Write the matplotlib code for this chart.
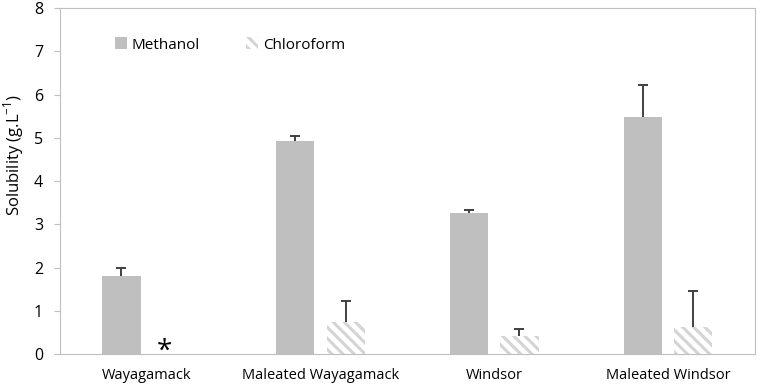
import numpy as np
import matplotlib.pyplot as plt

plt.rcParams['font.family'] = ['Open Sans', 'DejaVu Sans']

categories = ["Wayagamack", "Maleated Wayagamack", "Windsor", "Maleated Windsor"]
methanol = [1.8, 4.93, 3.26, 5.49]
methanol_err = [0.2, 0.12, 0.08, 0.73]
chloroform = [0.0, 0.74, 0.42, 0.63]
chloroform_err = [0.0, 0.48, 0.16, 0.83]

plt.rcParams['hatch.color'] = '#d4d4d4'
plt.rcParams['hatch.linewidth'] = 2.2

fig = plt.figure(figsize=(7.65, 3.9), dpi=100)
ax = fig.add_axes([0.078, 0.0923, 0.909, 0.887])

x = np.arange(len(categories))
w = 0.22
off = 0.145
ecol = '#404040'

ax.bar(x - off, methanol, w, color='#bfbfbf', label='Methanol')
# first chloroform value is missing (marked with asterisk)
ax.bar(x[1:] + off, chloroform[1:], w, color='white', hatch='\\\\\\', edgecolor='#d4d4d4', linewidth=0,
       label='Chloroform')

def upper_err(xs, vals, errs):
    xs = np.asarray(xs)
    vals = np.asarray(vals)
    errs = np.asarray(errs)
    ax.vlines(xs, vals, vals + errs, color=ecol, lw=1.4)
    ax.scatter(xs, vals + errs, marker='_', s=60, color=ecol, linewidths=1.4)

upper_err(x - off, methanol, methanol_err)
upper_err(x[1:] + off, chloroform[1:], chloroform_err[1:])

ax.text(x[0] + off - 0.04, 0.05, '*', ha='center', va='center', fontsize=20, color='black')

ax.set_xlim(-0.5, 3.5)
ax.set_ylim(0, 8)
ax.set_xticks(x)
ax.set_xticklabels(categories, fontsize=10.5)
ax.tick_params(axis='x', length=0, pad=10)
ax.tick_params(axis='y', length=4, color='#bfbfbf', labelsize=11.5, pad=8)
for s in ax.spines.values():
    s.set_color('#bfbfbf')
ax.set_ylabel('Solubility (g.L$^{\\mathregular{-1}}$)', fontsize=12)
ax.yaxis.set_label_coords(-0.048, 0.575)

ax.legend(loc='upper left', bbox_to_anchor=(0.06, 0.955), ncol=2, frameon=False,
          fontsize=11, handlelength=0.8, handleheight=0.8, columnspacing=3.0, handletextpad=0.3)

fig.savefig('out.png', dpi=100)
